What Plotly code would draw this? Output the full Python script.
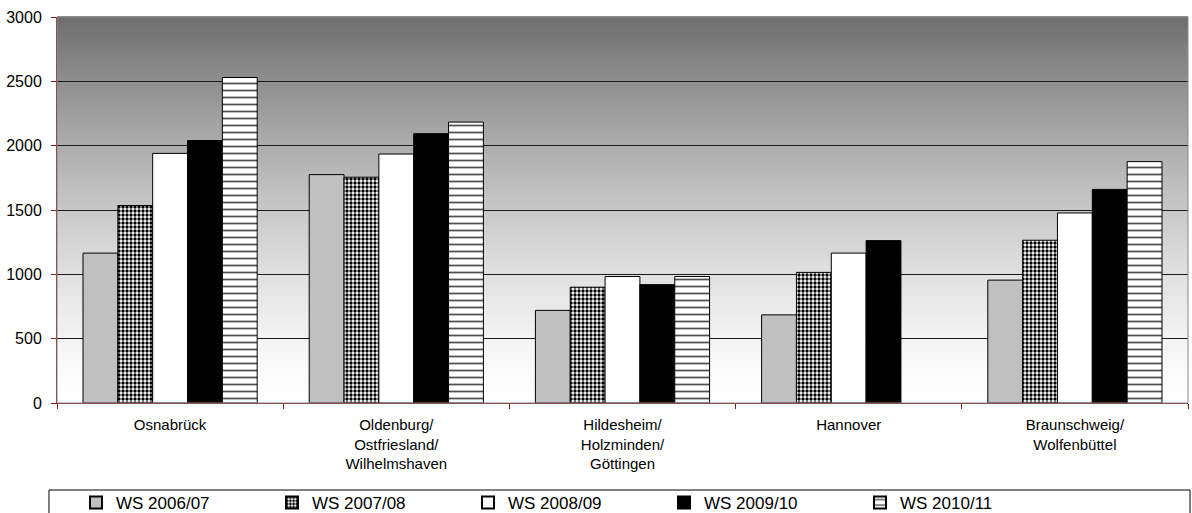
import plotly.graph_objects as go

# ---------------- data ----------------
categories = [
    "Osnabrück",
    "Oldenburg/<br>Ostfriesland/<br>Wilhelmshaven",
    "Hildesheim/<br>Holzminden/<br>Göttingen",
    "Hannover",
    "Braunschweig/<br>Wolfenbüttel",
]
series_names = ["WS 2006/07", "WS 2007/08", "WS 2008/09", "WS 2009/10", "WS 2010/11"]
ws_2006_07 = [1165, 1775, 720, 685, 955]
ws_2007_08 = [1535, 1755, 900, 1015, 1265]
ws_2008_09 = [1940, 1935, 983, 1165, 1477]
ws_2009_10 = [2040, 2093, 920, 1262, 1660]
ws_2010_11 = [2530, 2183, 983, None, 1876]
y_ticks = [0, 500, 1000, 1500, 2000, 2500, 3000]

series_values = [ws_2006_07, ws_2007_08, ws_2008_09, ws_2009_10, ws_2010_11]

# ---------------- styles ----------------
styles = [
    dict(color="#c0c0c0"),
    dict(color="white", pattern=dict(shape=".", fgcolor="black", bgcolor="white",
                                     size=4, solidity=0.55, fillmode="replace")),
    dict(color="white"),
    dict(color="black"),
    dict(color="white", pattern=dict(shape="-", fgcolor="#505050", bgcolor="white",
                                     size=7, solidity=0.25, fillmode="replace")),
]

FONT = "Liberation Sans, Arial, sans-serif"
AXIS_RED = "#8b1a1a"

fig = go.Figure()
for name, vals, st in zip(series_names, series_values, styles):
    marker = dict(line=dict(color="black", width=1), **st)
    fig.add_trace(go.Bar(name=name, x=categories, y=vals, marker=marker,
                         hoverinfo="x+y+name"))

# gradient background of plot area (dark gray top -> white bottom)
shapes = []
n = 90
top_c, bot_c = 110, 255
for i in range(n):
    t = (i + 0.5) / n  # 0 at bottom, 1 at top
    c = int(round(bot_c - (bot_c - top_c) * t ** 1.4))
    shapes.append(dict(type="rect", xref="paper", yref="paper",
                       x0=0, x1=1, y0=i / n, y1=(i + 1) / n + 0.002,
                       fillcolor=f"rgb({c},{c},{c})", line=dict(width=0),
                       layer="below"))
# thin gray border at top/right of plot area
shapes.append(dict(type="rect", xref="paper", yref="paper", x0=0, x1=1, y0=0, y1=1,
                   line=dict(color="#8a8a8a", width=1), fillcolor="rgba(0,0,0,0)",
                   layer="above"))
# legend frame
shapes.append(dict(type="rect", xref="paper", yref="paper",
                   x0=-0.0071, x1=1.0018, y0=-0.40, y1=-0.2254,
                   line=dict(color="black", width=1), fillcolor="white",
                   layer="below"))

fig.update_layout(
    width=1192, height=513,
    margin=dict(l=57, r=4, t=17, b=110, autoexpand=False),
    paper_bgcolor="white",
    plot_bgcolor="white",
    barmode="group",
    bargap=0.23,
    bargroupgap=0,
    font=dict(family=FONT, color="black", size=15),
    shapes=shapes,
    showlegend=True,
    legend=dict(
        orientation="h",
        x=0.0168, xanchor="left",
        y=-0.212, yanchor="top",
        entrywidth=151, entrywidthmode="pixels",
        font=dict(family=FONT, size=17, color="black"),
        bgcolor="rgba(0,0,0,0)",
        borderwidth=0,
        itemsizing="constant",
    ),
)

fig.update_xaxes(
    showgrid=False,
    showline=True, linecolor=AXIS_RED, linewidth=1,
    ticks="outside", tickson="boundaries", ticklen=5, tickcolor=AXIS_RED,
    tickfont=dict(family=FONT, size=15, color="black"),
    tickangle=0, automargin=False, ticklabelstandoff=8,
)
fig.update_yaxes(
    range=[0, 3000],
    tickvals=y_ticks,
    showgrid=True, gridcolor="#1a1a1a", gridwidth=1,
    zeroline=False,
    showline=True, linecolor=AXIS_RED, linewidth=1,
    ticks="outside", ticklen=5, tickcolor=AXIS_RED,
    tickfont=dict(family=FONT, size=16, color="black"),
    ticklabelstandoff=6, automargin=False,
)

fig.write_html(
    "out.html",
    config={"displayModeBar": False},
    post_script="document.body.style.margin='0px';document.body.style.overflow='hidden';",
)
